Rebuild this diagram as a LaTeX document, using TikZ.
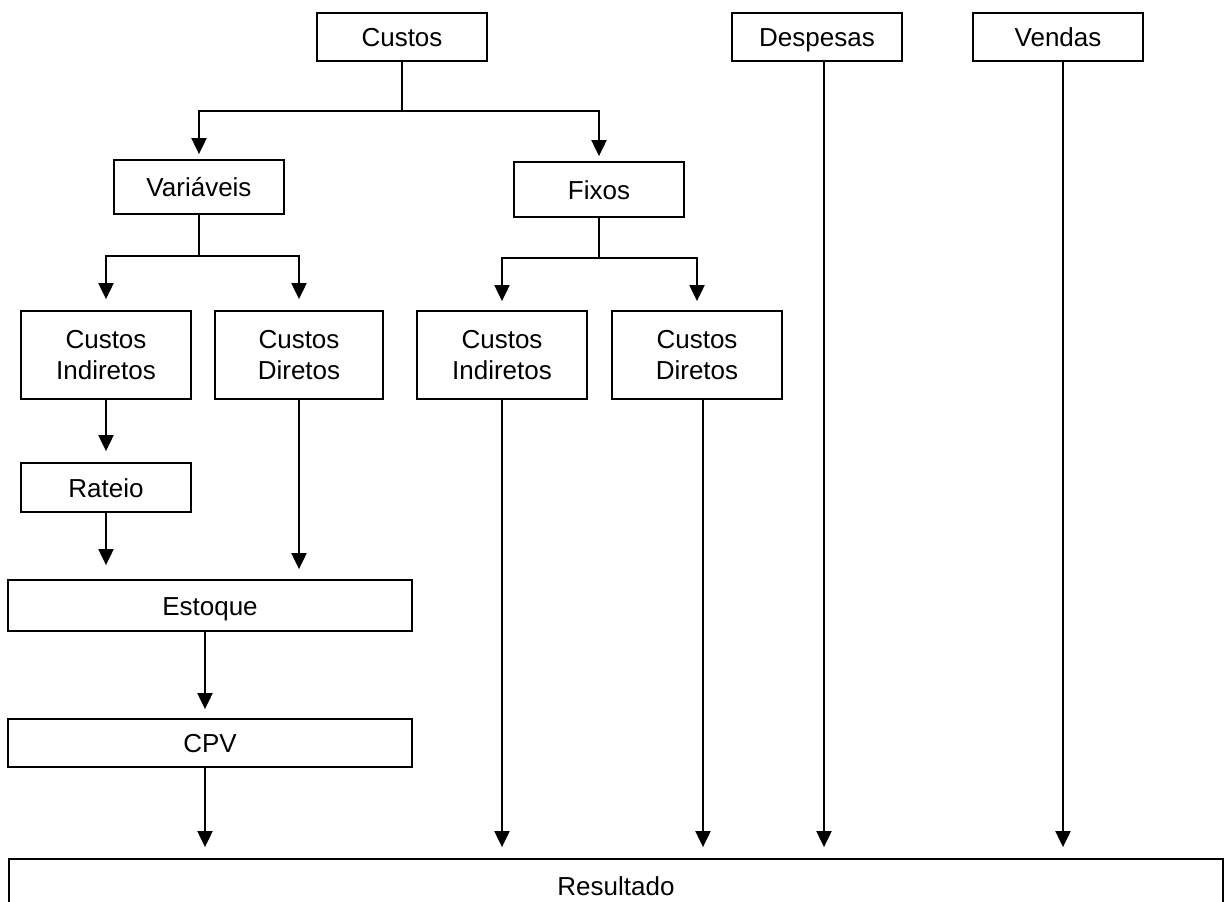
\documentclass[tikz,border=0pt]{standalone}
\usepackage{fontspec}
\setmainfont{Liberation Sans}
\usetikzlibrary{arrows.meta,calc}

\begin{document}
\begin{tikzpicture}[x=1pt,y=-1pt,
  caixa/.style={draw,line width=1.8pt,align=center,inner sep=0pt,
    font=\fontsize{26}{31}\selectfont},
  umalinha/.style={text height=19pt,text depth=0pt},
  linha/.style={line width=2pt},
  seta/.style={line width=2pt,-{Triangle[width=15pt,length=16pt]}}]

  \useasboundingbox (0,0) rectangle (1224,902);

  %% topo
  \node[caixa,umalinha,minimum width=170pt,minimum height=48pt] (custos) at (402,37) {Custos};
  \node[caixa,umalinha,minimum width=170pt,minimum height=48pt] (desp) at (817,37) {Despesas};
  \node[caixa,umalinha,minimum width=170pt,minimum height=48pt] (vendas) at (1058,37) {Vendas};

  %% segundo nivel
  \node[caixa,umalinha,minimum width=170pt,minimum height=54pt] (var) at (199,187) {Variáveis};
  \node[caixa,umalinha,minimum width=170pt,minimum height=55pt] (fixos) at (599,189.5) {Fixos};

  %% terceiro nivel
  \node[caixa,minimum width=170pt,minimum height=88pt] (ci1) at (106,355) {Custos\\Indiretos};
  \node[caixa,minimum width=168pt,minimum height=88pt] (cd1) at (299,355) {Custos\\Diretos};
  \node[caixa,minimum width=170pt,minimum height=88pt] (ci2) at (502,355) {Custos\\Indiretos};
  \node[caixa,minimum width=170pt,minimum height=88pt] (cd2) at (697,355) {Custos\\Diretos};

  \node[caixa,umalinha,minimum width=170pt,minimum height=49pt] (rateio) at (106,487.5) {Rateio};
  \node[caixa,umalinha,minimum width=404pt,minimum height=51pt] (estoque) at (210,605.5) {Estoque};
  \node[caixa,umalinha,minimum width=404pt,minimum height=48pt] (cpv) at (210,743) {CPV};
  \node[caixa,umalinha,minimum width=1214pt,minimum height=54pt] (res) at (616,886) {Resultado};

  %% ramos
  \draw[linha] (custos.south) -- ++(0,49) coordinate (jc);
  \draw[seta] (jc) -| ([yshift=5pt]var.north);
  \draw[seta] (jc) -| ([yshift=5pt]fixos.north);

  \draw[linha] (var.south) -- ++(0,41) coordinate (jv);
  \draw[seta] (jv) -| ([yshift=11pt]ci1.north);
  \draw[seta] (jv) -| ([yshift=11pt]cd1.north);

  \draw[linha] (fixos.south) -- ++(0,40) coordinate (jf);
  \draw[seta] (jf) -| ([yshift=9pt]ci2.north);
  \draw[seta] (jf) -| ([yshift=9pt]cd2.north);

  %% lado esquerdo
  \draw[seta] (ci1.south) -- ([yshift=11pt]rateio.north);
  \draw[seta] (rateio.south) -- ($(rateio.south |- estoque.north)+(0,-14)$);
  \draw[seta] (cd1.south) -- ($(cd1.south |- estoque.north)+(0,-10)$);
  \draw[seta] ([xshift=-5pt]estoque.south) -- ($(cpv.north)+(-5,-9)$);
  \draw[seta] ([xshift=-5pt]cpv.south) -- ($(cpv.south |- res.north)+(-5,-11)$);

  %% para o resultado
  \draw[seta] (ci2.south) -- ($(ci2.south |- res.north)+(0,-11)$);
  \draw[seta] ([xshift=6pt]cd2.south) -- ($(cd2.south |- res.north)+(6,-11)$);
  \draw[seta] ([xshift=7pt]desp.south) -- ($(desp.south |- res.north)+(7,-11)$);
  \draw[seta] ([xshift=5pt]vendas.south) -- ($(vendas.south |- res.north)+(5,-11)$);

\end{tikzpicture}
\end{document}
